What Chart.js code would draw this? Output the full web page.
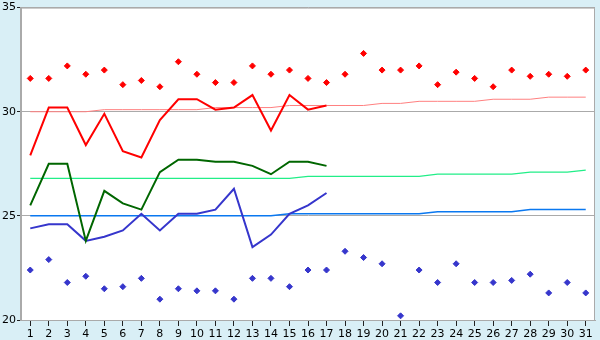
<!DOCTYPE html>
<html>
<head>
<meta charset="utf-8">
<script src="https://cdn.jsdelivr.net/npm/chart.js@4/dist/chart.umd.min.js"></script>
<style>
  html, body { margin: 0; padding: 0; background: #d9eff6; }
  #wrap { width: 600px; height: 340px; }
</style>
</head>
<body>
<div id="wrap"><canvas id="myChart" width="600" height="340"></canvas></div>
<script>
const days = [];
for (let d = 1; d <= 31; d++) days.push(String(d));

// daily maximum / minimum (points)
const maxPoints = [31.6, 31.6, 32.2, 31.8, 32.0, 31.3, 31.5, 31.2, 32.4, 31.8,
  31.4, 31.4, 32.2, 31.8, 32.0, 31.6, 31.4, 31.8, 32.8, 32.0,
  32.0, 32.2, 31.3, 31.9, 31.6, 31.2, 32.0, 31.7, 31.8, 31.7, 32.0];
const minPoints = [22.4, 22.9, 21.8, 22.1, 21.5, 21.6, 22.0, 21.0, 21.5, 21.4,
  21.4, 21.0, 22.0, 22.0, 21.6, 22.4, 22.4, 23.3, 23.0, 22.7,
  20.2, 22.4, 21.8, 22.7, 21.8, 21.8, 21.9, 22.2, 21.3, 21.8, 21.3];

// observed lines (days 1-17)
const maxLine = [27.9, 30.2, 30.2, 28.4, 29.9, 28.1, 27.8, 29.6, 30.6, 30.6,
  30.1, 30.2, 30.8, 29.1, 30.8, 30.1, 30.3];
const meanLine = [25.5, 27.5, 27.5, 23.8, 26.2, 25.6, 25.3, 27.1, 27.7, 27.7,
  27.6, 27.6, 27.4, 27.0, 27.6, 27.6, 27.4];
const minLine = [24.4, 24.6, 24.6, 23.8, 24.0, 24.3, 25.1, 24.3, 25.1, 25.1,
  25.3, 26.3, 23.5, 24.1, 25.1, 25.5, 26.1];

// normal lines (thin)
const maxNormal = [30.0, 30.0, 30.0, 30.0, 30.1, 30.1, 30.1, 30.1, 30.1, 30.1,
  30.2, 30.2, 30.2, 30.2, 30.3, 30.3, 30.3, 30.3, 30.3, 30.4,
  30.4, 30.5, 30.5, 30.5, 30.5, 30.6, 30.6, 30.6, 30.7, 30.7, 30.7];
const meanNormal = [26.8, 26.8, 26.8, 26.8, 26.8, 26.8, 26.8, 26.8, 26.8, 26.8,
  26.8, 26.8, 26.8, 26.8, 26.8, 26.9, 26.9, 26.9, 26.9, 26.9,
  26.9, 26.9, 27.0, 27.0, 27.0, 27.0, 27.0, 27.1, 27.1, 27.1, 27.2];
const minNormal = [25.0, 25.0, 25.0, 25.0, 25.0, 25.0, 25.0, 25.0, 25.0, 25.0,
  25.0, 25.0, 25.0, 25.0, 25.1, 25.1, 25.1, 25.1, 25.1, 25.1,
  25.1, 25.1, 25.2, 25.2, 25.2, 25.2, 25.2, 25.3, 25.3, 25.3, 25.3];

const yTicks = [20, 25, 30, 35];

// white plot area with a grey frame
const plotBg = {
  id: 'plotBg',
  beforeDraw(chart) {
    const {ctx, chartArea: {left, top, width, height}} = chart;
    ctx.save();
    ctx.fillStyle = '#d9eff6';
    ctx.fillRect(0, 0, chart.width, chart.height);
    ctx.fillStyle = '#ffffff';
    ctx.fillRect(left, top, width, height);
    ctx.restore();
  },
  beforeDatasetsDraw(chart) {
    const {ctx, chartArea: {left, top, right, bottom}} = chart;
    ctx.save();
    ctx.strokeStyle = '#aaaaaa';
    ctx.lineWidth = 1;
    ctx.beginPath();
    ctx.moveTo(left, top + 0.5);
    ctx.lineTo(right - 0.5, top + 0.5);
    ctx.lineTo(right - 0.5, bottom);
    ctx.stroke();
    ctx.restore();
  }
};

const lineSet = (data, color, width) => ({
  data: data,
  borderColor: color,
  borderWidth: width,
  pointRadius: 0,
  fill: false,
  tension: 0
});

const pointSet = (data, color) => ({
  data: data,
  showLine: false,
  pointStyle: 'rectRot',
  pointRadius: 3,
  pointBackgroundColor: color,
  pointBorderColor: color,
  pointBorderWidth: 1
});

new Chart(document.getElementById('myChart'), {
  type: 'line',
  data: {
    labels: days,
    datasets: [
      lineSet(maxLine, '#ff0000', 2),
      lineSet(meanLine, '#006600', 2),
      lineSet(minLine, '#3636cc', 2),
      pointSet(maxPoints, '#ff0000'),
      pointSet(minPoints, '#3636cc'),
      lineSet(maxNormal, '#ff8080', 1),
      lineSet(meanNormal, '#22ee88', 1.2),
      lineSet(minNormal, '#0a78f0', 1.5)
    ]
  },
  plugins: [plotBg],
  options: {
    responsive: false,
    animation: false,
    layout: { padding: { top: 5, right: 5, left: 0, bottom: 0 } },
    plugins: {
      legend: { display: false },
      tooltip: { enabled: false }
    },
    scales: {
      x: {
        type: 'category',
        offset: true,
        afterFit(axis) { axis.height = 20; },
        grid: {
          offset: false,
          drawOnChartArea: false,
          tickLength: 6,
          tickColor: '#222222'
        },
        border: { color: '#aaaaaa', width: 1 },
        ticks: {
          color: '#000000',
          padding: 2,
          maxRotation: 0,
          autoSkip: false,
          font: { family: 'DejaVu Sans', size: 11 }
        }
      },
      y: {
        min: 20,
        max: 35,
        afterFit(axis) { axis.width = 21; },
        afterBuildTicks(axis) { axis.ticks = yTicks.map(v => ({ value: v })); },
        grid: {
          color: '#aaaaaa',
          lineWidth: 1,
          tickLength: 4,
          tickColor: '#222222'
        },
        border: { color: '#aaaaaa', width: 2 },
        ticks: {
          color: '#000000',
          padding: 1,
          font: { family: 'DejaVu Sans', size: 11 }
        }
      }
    }
  }
});
</script>
</body>
</html>
